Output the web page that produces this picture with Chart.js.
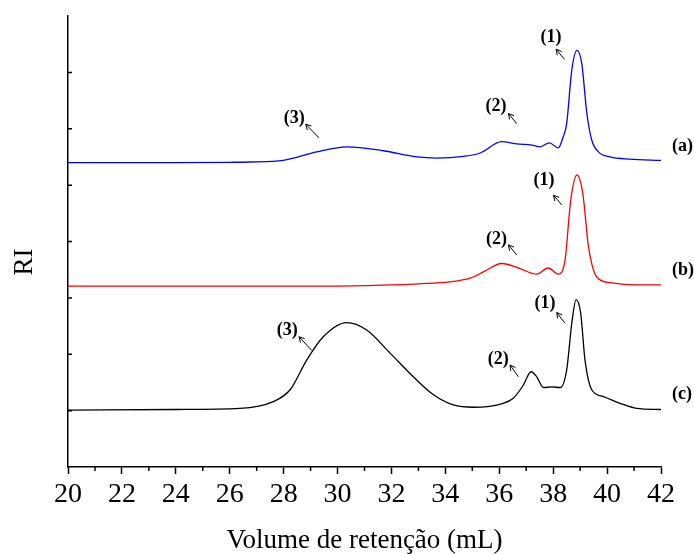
<!DOCTYPE html>
<html>
<head>
<meta charset="utf-8">
<script src="https://cdn.jsdelivr.net/npm/chart.js@4.4.1/dist/chart.umd.min.js"></script>
<style>
  html, body { margin: 0; padding: 0; background: #fff; }
  #wrap { width: 694px; height: 554px; }
</style>
</head>
<body>
<div id="wrap"><canvas id="grafico"></canvas></div>
<script>
// Cromatogramas (a), (b), (c): volume de retenção (mL) x sinal RI
const volA = [20, 22, 24, 26, 26.75, 27.99, 29.23, 30.34, 31.7, 32.94, 33.68, 34.67, 35.29, 36.09, 36.65, 37.21, 37.51, 37.86, 38.19, 38.36, 38.5, 38.69, 38.88, 39.06, 39.25, 39.43, 39.68, 40.11, 40.85, 42];
const riA  = [5.40, 5.40, 5.40, 5.405, 5.41, 5.44, 5.59, 5.68, 5.61, 5.50, 5.48, 5.51, 5.57, 5.77, 5.73, 5.71, 5.68, 5.75, 5.66, 5.84, 6.09, 7.04, 7.39, 7.16, 6.27, 5.80, 5.59, 5.50, 5.46, 5.44];

const volB = [20, 26, 30, 32, 33, 34.17, 34.92, 35.41, 36.09, 36.77, 37.39, 37.82, 38.19, 38.44, 38.65, 38.88, 39.1, 39.31, 39.62, 40.11, 41.1, 42];
const riB  = [3.21, 3.21, 3.21, 3.23, 3.25, 3.285, 3.35, 3.46, 3.61, 3.52, 3.42, 3.53, 3.42, 3.67, 4.73, 5.18, 4.85, 3.91, 3.37, 3.27, 3.23, 3.23];

const volC = [20, 24, 26.38, 27.62, 28.24, 28.86, 29.47, 30.34, 31.08, 31.95, 32.81, 33.56, 34.3, 35.04, 36.15, 36.52, 36.89, 37.18, 37.39, 37.64, 37.95, 38.26, 38.5, 38.69, 38.85, 39.02, 39.18, 39.43, 39.86, 40.48, 41.1, 42];
const riC  = [1.01, 1.02, 1.04, 1.16, 1.37, 1.90, 2.31, 2.56, 2.43, 2.02, 1.60, 1.28, 1.10, 1.06, 1.13, 1.22, 1.45, 1.69, 1.60, 1.41, 1.42, 1.41, 1.72, 2.55, 2.97, 2.73, 1.90, 1.37, 1.25, 1.13, 1.04, 1.02];

const xTicks = [20, 22, 24, 26, 28, 30, 32, 34, 36, 38, 40, 42];
const xMinor = [21, 23, 25, 27, 29, 31, 33, 35, 37, 39, 41];
const yTicks = [1, 2, 3, 4, 5, 6, 7];

const serieNomes = ['(a)', '(b)', '(c)'];
const serieNivel = [5.69, 3.49, 1.29];

// picos marcados: texto, posição do rótulo, ponta e cauda da seta
const picos = [
  { t: '(3)', lx: 28.39, ly: 6.19, hx: 28.82, hy: 6.08, tx: 29.31, ty: 5.84 },
  { t: '(2)', lx: 35.88, ly: 6.40, hx: 36.34, hy: 6.27, tx: 36.65, ty: 6.09 },
  { t: '(1)', lx: 37.92, ly: 7.62, hx: 38.11, hy: 7.41, tx: 38.42, ty: 7.23 },
  { t: '(1)', lx: 37.66, ly: 5.09, hx: 38.01, hy: 4.82, tx: 38.32, ty: 4.65 },
  { t: '(2)', lx: 35.90, ly: 4.04, hx: 36.34, hy: 3.94, tx: 36.65, ty: 3.76 },
  { t: '(3)', lx: 28.13, ly: 2.43, hx: 28.57, hy: 2.31, tx: 29.04, ty: 2.07 },
  { t: '(1)', lx: 37.70, ly: 2.90, hx: 38.13, hy: 2.74, tx: 38.44, ty: 2.55 },
  { t: '(2)', lx: 35.96, ly: 1.91, hx: 36.40, hy: 1.81, tx: 36.71, ty: 1.60 }
];

const SERIF = "'Liberation Serif', 'Times New Roman', serif";

const pares = (xs, ys) => xs.map((v, i) => ({ x: v, y: ys[i] }));

const serie = (xs, ys, cor) => ({
  data: pares(xs, ys),
  borderColor: cor,
  borderWidth: 1.3,
  pointRadius: 0,
  fill: false,
  cubicInterpolationMode: 'monotone'
});

// ticks menores, rótulos dos picos, nomes das séries e título RI
const extras = {
  id: 'extras',
  afterDraw(chart) {
    const { ctx, scales: { x, y } } = chart;
    ctx.save();
    ctx.strokeStyle = '#000';
    ctx.lineWidth = 1.5;
    ctx.beginPath();
    xMinor.forEach(v => {
      const px = x.getPixelForValue(v);
      ctx.moveTo(px, x.top);
      ctx.lineTo(px, x.top + 4);
    });
    yTicks.forEach(v => {
      const py = y.getPixelForValue(v);
      ctx.moveTo(y.right, py);
      ctx.lineTo(y.right + 4, py);
    });
    ctx.stroke();

    ctx.fillStyle = '#000';
    ctx.font = 'bold 18px ' + SERIF;
    ctx.textAlign = 'center';
    ctx.textBaseline = 'middle';
    ctx.lineWidth = 1;
    picos.forEach(p => {
      ctx.fillText(p.t, x.getPixelForValue(p.lx), y.getPixelForValue(p.ly));
      const hx = x.getPixelForValue(p.hx), hy = y.getPixelForValue(p.hy);
      const tx = x.getPixelForValue(p.tx), ty = y.getPixelForValue(p.ty);
      const ang = Math.atan2(hy - ty, hx - tx);
      ctx.beginPath();
      ctx.moveTo(tx, ty);
      ctx.lineTo(hx, hy);
      ctx.moveTo(hx - 6 * Math.cos(ang - 0.5), hy - 6 * Math.sin(ang - 0.5));
      ctx.lineTo(hx, hy);
      ctx.lineTo(hx - 6 * Math.cos(ang + 0.5), hy - 6 * Math.sin(ang + 0.5));
      ctx.stroke();
    });

    ctx.textAlign = 'left';
    serieNomes.forEach((n, i) => {
      ctx.fillText(n, x.right + 11, y.getPixelForValue(serieNivel[i]));
    });

    ctx.font = '27px ' + SERIF;
    ctx.textAlign = 'center';
    ctx.translate(25, 262);
    ctx.rotate(-Math.PI / 2);
    ctx.fillText('RI', 0, 0);
    ctx.restore();
  }
};

new Chart(document.getElementById('grafico'), {
  type: 'line',
  data: {
    datasets: [
      serie(volA, riA, '#0000ff'),
      serie(volB, riB, '#ff0000'),
      serie(volC, riC, '#000000')
    ]
  },
  options: {
    responsive: true,
    maintainAspectRatio: false,
    animation: false,
    layout: { padding: { top: 16, right: 33, left: 0, bottom: 0 } },
    plugins: {
      legend: { display: false },
      tooltip: { enabled: false }
    },
    scales: {
      x: {
        type: 'linear',
        min: 20,
        max: 42,
        afterBuildTicks: s => { s.ticks = xTicks.map(v => ({ value: v })); },
        afterFit: s => { s.height = 87; },
        ticks: {
          color: '#000',
          font: { family: SERIF, size: 28 },
          padding: 4,
          maxRotation: 0,
          autoSkip: false
        },
        grid: { drawOnChartArea: false, tickLength: 7, tickColor: '#000', tickWidth: 1.5 },
        border: { color: '#000', width: 1.5 },
        title: {
          display: true,
          text: 'Volume de retenção (mL)',
          color: '#000',
          font: { family: SERIF, size: 27, lineHeight: 1 },
          padding: 0
        }
      },
      y: {
        min: 0,
        max: 8,
        afterFit: s => { s.width = 68; },
        ticks: { display: false },
        grid: { display: false },
        border: { color: '#000', width: 1.5 }
      }
    }
  },
  plugins: [extras]
});
</script>
</body>
</html>
